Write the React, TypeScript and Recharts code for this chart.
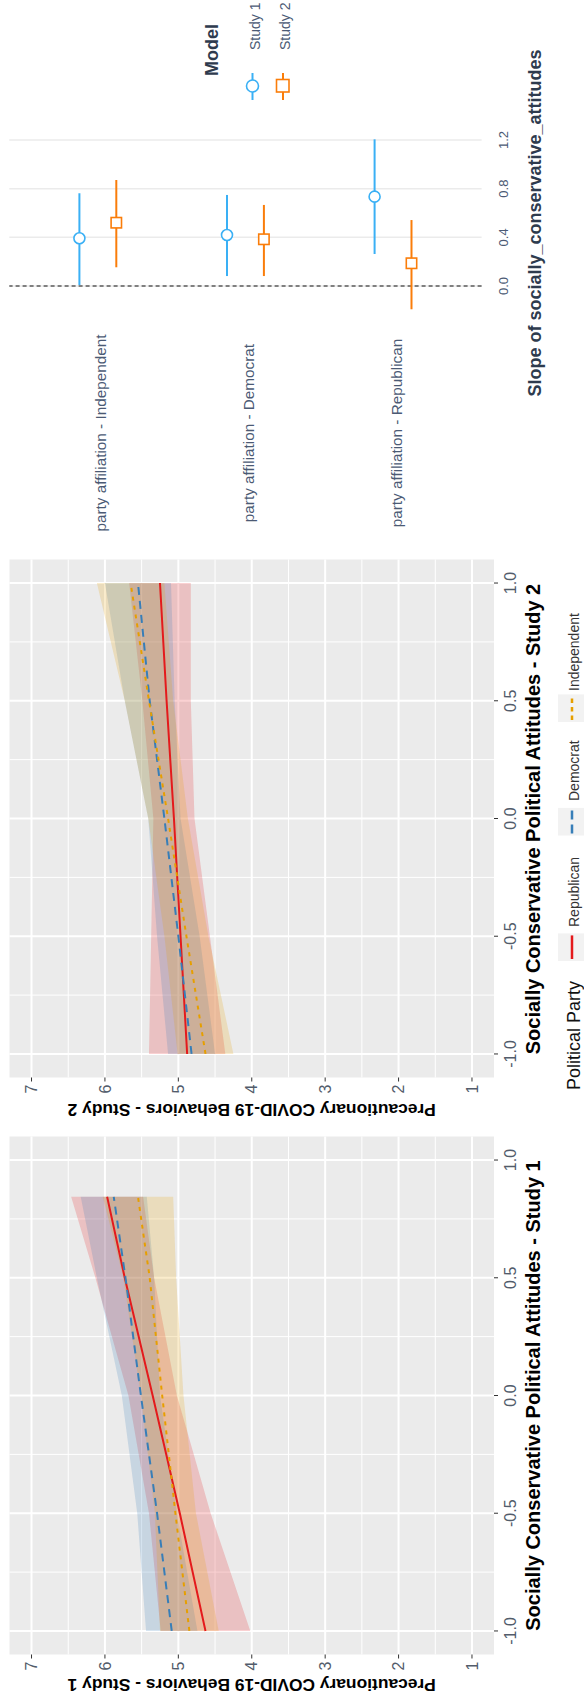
// Precautionary behaviours by party, two studies, plus slope comparison (figure is laid out sideways)

import { ComposedChart, Line, Area, Scatter, ErrorBar, XAxis, YAxis, CartesianGrid, ReferenceLine } from 'recharts';

const FONT = '"Liberation Sans", Arial, Helvetica, sans-serif';
const TICK = '#525C6B';
const RED = '#E41A1C';
const STEEL = '#377EB8';
const GOLD = '#E69F00';
const BLUE = '#3AB0F5';
const ORANGE = '#FA7D0A';

// Study 1: fitted values and 95% bands
const study1X = [-1, -0.5, 0, 0.5, 0.844];
const study1Rep = [4.63, 4.98, 5.35, 5.73, 5.97];
const study1RepLo = [4.02, 4.56, 5.02, 5.33, 5.48];
const study1RepHi = [5.24, 5.4, 5.68, 6.13, 6.46];
const study1Dem = [5.09, 5.29, 5.51, 5.72, 5.88];
const study1DemLo = [4.74, 5.02, 5.25, 5.33, 5.43];
const study1DemHi = [5.44, 5.56, 5.77, 6.11, 6.33];
const study1Ind = [4.85, 5.04, 5.22, 5.39, 5.55];
const study1IndLo = [4.45, 4.76, 4.93, 5.03, 5.07];
const study1IndHi = [5.25, 5.32, 5.51, 5.75, 6.03];

// Study 2
const study2X = [-1, -0.5, 0, 0.5, 1];
const study2Rep = [4.88, 4.97, 5.06, 5.16, 5.25];
const study2RepLo = [4.36, 4.57, 4.78, 4.83, 4.83];
const study2RepHi = [5.4, 5.37, 5.34, 5.49, 5.67];
const study2Dem = [4.82, 5.0, 5.19, 5.39, 5.55];
const study2DemLo = [4.5, 4.71, 4.97, 5.05, 5.1];
const study2DemHi = [5.14, 5.29, 5.41, 5.73, 6.0];
const study2Ind = [4.63, 4.89, 5.14, 5.4, 5.65];
const study2IndLo = [4.25, 4.59, 4.87, 5.07, 5.19];
const study2IndHi = [5.01, 5.19, 5.41, 5.73, 6.11];

const xTicks = [-1, -0.5, 0, 0.5, 1];
const xMinor = [-0.75, -0.25, 0.25, 0.75];
const yTicks = [1, 2, 3, 4, 5, 6, 7];
const yMinor = [1.5, 2.5, 3.5, 4.5, 5.5, 6.5];

// Slopes of socially conservative attitudes by party
const terms = ['party affiliation - Independent', 'party affiliation - Democrat', 'party affiliation - Republican'];
const termPos = [3, 2, 1];
const slope1 = [0.392, 0.419, 0.734];
const slope1Lo = [0.008, 0.082, 0.263];
const slope1Hi = [0.762, 0.748, 1.205];
const slope2 = [0.52, 0.384, 0.187];
const slope2Lo = [0.154, 0.082, -0.191];
const slope2Hi = [0.871, 0.666, 0.542];
const slopeTicks = [0, 0.4, 0.8, 1.2];

function buildRows(xs: number[], rep: number[], repLo: number[], repHi: number[], dem: number[], demLo: number[], demHi: number[], ind: number[], indLo: number[], indHi: number[]) {
  return xs.map((x, i) => ({
    x,
    rep: rep[i],
    dem: dem[i],
    ind: ind[i],
    repBand: [repLo[i], repHi[i]],
    demBand: [demLo[i], demHi[i]],
    indBand: [indLo[i], indHi[i]],
  }));
}

function slopeRows(est: number[], lo: number[], hi: number[], shift: number) {
  return terms.map((term, i) => ({
    term,
    pos: termPos[i] + shift,
    est: est[i],
    err: [est[i] - lo[i], hi[i] - est[i]],
  }));
}

const study1Rows = buildRows(study1X, study1Rep, study1RepLo, study1RepHi, study1Dem, study1DemLo, study1DemHi, study1Ind, study1IndLo, study1IndHi);
const study2Rows = buildRows(study2X, study2Rep, study2RepLo, study2RepHi, study2Dem, study2DemLo, study2DemHi, study2Ind, study2IndLo, study2IndHi);
const model1Rows = slopeRows(slope1, slope1Lo, slope1Hi, 0.125);
const model2Rows = slopeRows(slope2, slope2Lo, slope2Hi, -0.125);

const tickStyle = { fill: TICK, fontSize: 16, fontFamily: FONT };

function StudyPanel({ left, rows }: { left: number; rows: any[] }) {
  return (
    <div style={{ position: 'absolute', left, top: 0 }}>
      <ComposedChart width={576.5} height={584} data={rows} margin={{ top: 9.5, right: 13, bottom: 70, left: 0 }}>
        <CartesianGrid fill="#EBEBEB" fillOpacity={1} stroke="#FFFFFF" strokeWidth={1} verticalValues={xMinor} horizontalValues={yMinor} />
        <CartesianGrid stroke="#FFFFFF" strokeWidth={2} verticalValues={xTicks} horizontalValues={yTicks} />
        <XAxis
          dataKey="x"
          type="number"
          domain={[-1.1, 1.1]}
          allowDataOverflow
          ticks={xTicks}
          interval={0}
          tickFormatter={(v: number) => v.toFixed(1)}
          axisLine={false}
          tickLine={{ stroke: '#333333' }}
          tickSize={4}
          tickMargin={7}
          tick={tickStyle}
          height={20}
        />
        <YAxis
          type="number"
          domain={[0.7, 7.3]}
          allowDataOverflow
          ticks={yTicks}
          interval={0}
          axisLine={false}
          tickLine={{ stroke: '#333333' }}
          tickSize={4}
          tickMargin={3}
          tick={tickStyle}
          width={45.5}
        />
        <Line dataKey="rep" type="linear" stroke={RED} strokeWidth={2} dot={false} isAnimationActive={false} />
        <Line dataKey="dem" type="linear" stroke={STEEL} strokeWidth={2} strokeDasharray="8 6" dot={false} isAnimationActive={false} />
        <Line dataKey="ind" type="linear" stroke={GOLD} strokeWidth={2} strokeDasharray="4 5" dot={false} isAnimationActive={false} />
        <Area dataKey="repBand" type="linear" fill={RED} fillOpacity={0.2} stroke="none" isAnimationActive={false} />
        <Area dataKey="demBand" type="linear" fill={STEEL} fillOpacity={0.2} stroke="none" isAnimationActive={false} />
        <Area dataKey="indBand" type="linear" fill={GOLD} fillOpacity={0.2} stroke="none" isAnimationActive={false} />
      </ComposedChart>
    </div>
  );
}

function TermTick(props: any) {
  const idx = termPos.indexOf(props.payload.value);
  return (
    <text x={107} y={props.y + 3} textAnchor="middle" dominantBaseline="central" fill="#4B5A74" fontSize={15.3} fontFamily={FONT}>
      {terms[idx]}
    </text>
  );
}

function SlopePanel() {
  return (
    <div style={{ position: 'absolute', left: 1160, top: 0 }}>
      <ComposedChart width={540} height={584} margin={{ top: 9.3, right: 130.8, bottom: 72.4, left: 0 }}>
        <CartesianGrid horizontal={false} verticalValues={slopeTicks} stroke="#EBEBEB" strokeWidth={1.5} />
        <XAxis
          dataKey="est"
          type="number"
          domain={[-0.261, 1.275]}
          allowDataOverflow
          ticks={slopeTicks}
          interval={0}
          tickFormatter={(v: number) => v.toFixed(1)}
          axisLine={false}
          tickLine={false}
          tickSize={0}
          tickMargin={17}
          tick={{ fill: '#4B5A74', fontSize: 13, fontFamily: FONT }}
          height={30}
        />
        <YAxis dataKey="pos" type="number" domain={[0.4, 3.6]} ticks={termPos} interval={0} axisLine={false} tickLine={false} width={222.2} tick={TermTick} />
        <ReferenceLine x={0} stroke="#111111" strokeDasharray="4 3" strokeWidth={1.2} />
        <Scatter
          data={model1Rows}
          isAnimationActive={false}
          shape={(p: any) => <circle cx={p.cx} cy={p.cy} r={5.5} fill="#FFFFFF" stroke={BLUE} strokeWidth={1.6} />}
        >
          <ErrorBar dataKey="err" direction="x" width={0} stroke={BLUE} strokeWidth={2} isAnimationActive={false} />
        </Scatter>
        <Scatter
          data={model2Rows}
          isAnimationActive={false}
          shape={(p: any) => <rect x={p.cx - 5.2} y={p.cy - 5.2} width={10.4} height={10.4} fill="#FFFFFF" stroke={ORANGE} strokeWidth={1.6} />}
        >
          <ErrorBar dataKey="err" direction="x" width={0} stroke={ORANGE} strokeWidth={2} isAnimationActive={false} />
        </Scatter>
      </ComposedChart>
    </div>
  );
}

function Overlay() {
  const bold = { fontFamily: FONT, fontWeight: 700, fill: '#000000' } as const;
  const txt = { fontFamily: FONT, fill: '#333333' } as const;
  return (
    <svg width={1700} height={584} style={{ position: 'absolute', left: 0, top: 0, pointerEvents: 'none' }}>
      <text x={15} y={251.75} transform="rotate(-90 15 251.75)" textAnchor="middle" dominantBaseline="central" fontSize={17.4} {...bold}>
        Precautionary COVID-19 Behaviors - Study 1
      </text>
      <text x={304.5} y={532.5} textAnchor="middle" dominantBaseline="central" fontSize={20} {...bold}>
        Socially Conservative Political Attitudes - Study 1
      </text>
      <text x={590} y={251.75} transform="rotate(-90 590 251.75)" textAnchor="middle" dominantBaseline="central" fontSize={17.4} {...bold}>
        Precautionary COVID-19 Behaviors - Study 2
      </text>
      <text x={881} y={532.5} textAnchor="middle" dominantBaseline="central" fontSize={20} {...bold}>
        Socially Conservative Political Attitudes - Study 2
      </text>

      {/* party legend under study 2 */}
      <text x={610} y={573.5} dominantBaseline="central" fontSize={18} {...txt} fill="#111111">Political Party</text>
      <rect x={739} y={558} width={27.6} height={27.6} fill="#F2F2F2" />
      <line x1={741} x2={764.6} y1={572} y2={572} stroke={RED} strokeWidth={2.5} />
      <text x={773} y={574} dominantBaseline="central" fontSize={14} {...txt}>Republican</text>
      <rect x={864.5} y={558} width={27.6} height={27.6} fill="#F2F2F2" />
      <line x1={866.5} x2={890} y1={572} y2={572} stroke={STEEL} strokeWidth={2.5} strokeDasharray="9 5" />
      <text x={899} y={574} dominantBaseline="central" fontSize={14} {...txt}>Democrat</text>
      <rect x={978} y={558} width={27.6} height={27.6} fill="#F2F2F2" />
      <line x1={980} x2={1003.6} y1={572} y2={572} stroke={GOLD} strokeWidth={2.5} strokeDasharray="4.5 4" />
      <text x={1009} y={574} dominantBaseline="central" fontSize={14} {...txt}>Independent</text>

      {/* slope panel title and legend */}
      <text x={1477} y={534.5} textAnchor="middle" dominantBaseline="central" fontSize={18} {...bold} fill="#2E3B4E">
        Slope of socially_conservative_attitudes
      </text>
      <text x={1624} y={212} dominantBaseline="central" fontSize={18} {...bold} fill="#2E3B4E">Model</text>
      <line x1={1600} x2={1627} y1={252.5} y2={252.5} stroke={BLUE} strokeWidth={2} />
      <circle cx={1614} cy={252.5} r={6} fill="#FFFFFF" stroke={BLUE} strokeWidth={1.6} />
      <text x={1650} y={254.5} dominantBaseline="central" fontSize={14} fontFamily={FONT} fill="#4B5A74">Study 1</text>
      <line x1={1600} x2={1627} y1={283} y2={283} stroke={ORANGE} strokeWidth={2} />
      <rect x={1608} y={276.5} width={12.5} height={12.5} fill="#FFFFFF" stroke={ORANGE} strokeWidth={1.6} />
      <text x={1650} y={285} dominantBaseline="central" fontSize={14} fontFamily={FONT} fill="#4B5A74">Study 2</text>
    </svg>
  );
}

export default function App() {
  return (
    <div style={{ position: 'absolute', left: 0, top: 0, width: 584, height: 1700, overflow: 'hidden', background: '#FFFFFF' }}>
      <div
        style={{
          position: 'absolute',
          left: 0,
          top: 0,
          width: 1700,
          height: 584,
          transformOrigin: '0 0',
          transform: 'translate(0px, 1700px) rotate(-90deg)',
        }}
      >
        <StudyPanel left={0} rows={study1Rows} />
        <StudyPanel left={576.5} rows={study2Rows} />
        <SlopePanel />
        <Overlay />
      </div>
    </div>
  );
}
